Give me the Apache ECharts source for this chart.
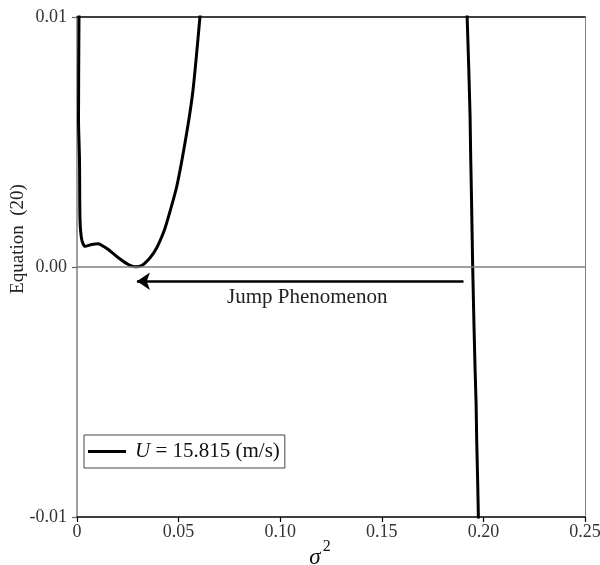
<!DOCTYPE html>
<html>
<head>
<meta charset="utf-8">
<script src="https://cdn.jsdelivr.net/npm/echarts@6/dist/echarts.min.js"></script>
<style>html,body{margin:0;padding:0;background:#fff}#c{width:600px;height:565px}</style>
</head>
<body>
<div id="c"></div>
<script>
// Left branch of Equation (20) vs sigma^2
const leftX = [0.0010, 0.00074, 0.00123, 0.00148, 0.00232, 0.00394, 0.00724, 0.01049, 0.01296, 0.01542, 0.02034, 0.02527, 0.02857, 0.03187, 0.03596, 0.03926, 0.04251, 0.04419, 0.04911, 0.05404, 0.05714, 0.06059, 0.0611];
const leftY = [0.0102, 0.00591, 0.00431, 0.0019, 0.00110, 0.00083, 0.00090, 0.00093, 0.00083, 0.00070, 0.00037, 0.00010, 0.000008, 0.00006, 0.00037, 0.00077, 0.00137, 0.00178, 0.00323, 0.00539, 0.00711, 0.01008, 0.0107];
// Right branch
const rightX = [0.19180, 0.19197, 0.19276, 0.19344, 0.19374, 0.19409, 0.19473, 0.19542, 0.19591, 0.19640, 0.19670, 0.19720, 0.19754, 0.19760];
const rightY = [0.0107, 0.01008, 0.00805, 0.00604, 0.00444, 0.00299, -0.00002, -0.00251, -0.00411, -0.00543, -0.00691, -0.00864, -0.01004, -0.0107];
// Jump arrow (from -> to) and labels
const jumpFrom = [0.1902, -0.00057];
const jumpTo = [0.0295, -0.00057];
const jumpText = 'Jump Phenomenon';
const seriesName = 'U = 15.815 (m/s)';
const xTicks = [0, 0.05, 0.10, 0.15, 0.20, 0.25];
const yTicks = [-0.01, 0, 0.01];

const FONT = '"Liberation Serif", "Times New Roman", serif';
const zip = (a, b) => a.map((v, i) => [v, b[i]]);

const chart = echarts.init(document.getElementById('c'), null, {renderer: 'canvas'});
chart.setOption({
  animation: false,
  backgroundColor: '#fff',
  grid: {left: 77, right: 15, top: 17, bottom: 48, containLabel: false, outerBoundsMode: 'none'},
  legend: {
    left: 84, top: 435,
    orient: 'vertical',
    padding: [6, 5, 6, 4],
    itemGap: 0,
    itemWidth: 38, itemHeight: 3,
    borderColor: '#444', borderWidth: 1, borderRadius: 0,
    data: [{name: seriesName, icon: 'rect', itemStyle: {color: '#000'}}],
    formatter: () => '{i|U} = 15.815 (m/s)',
    textStyle: {fontFamily: FONT, fontSize: 21, color: '#111', padding: [0, 0, 0, 4],
      rich: {i: {fontFamily: FONT, fontSize: 21, fontStyle: 'italic', color: '#111'}}}
  },
  xAxis: [{
    type: 'value', min: xTicks[0], max: xTicks[xTicks.length - 1], interval: 0.05,
    name: '{s|σ}{p|2}', nameLocation: 'middle', nameGap: 22, nameMoveOverlap: false,
    nameTextStyle: {padding: [0, 22, 0, 0], rich: {
      s: {fontFamily: FONT, fontSize: 23, fontStyle: 'italic', color: '#111', lineHeight: 30, verticalAlign: 'bottom'},
      p: {fontFamily: FONT, fontSize: 16, color: '#111', lineHeight: 16, verticalAlign: 'top', padding: [0, 0, 0, 2]}
    }},
    splitLine: {show: false},
    axisLine: {show: true, onZero: false, lineStyle: {color: '#000', width: 1.5}},
    axisTick: {show: true, inside: false, length: 5, lineStyle: {color: '#000', width: 1.2}},
    axisLabel: {margin: 6, fontFamily: FONT, fontSize: 18, color: '#333',
      formatter: v => v === 0 ? '0' : v.toFixed(2)}
  }, {
    type: 'value', position: 'top', min: xTicks[0], max: xTicks[xTicks.length - 1], interval: 0.05,
    axisLine: {show: true, onZero: false, lineStyle: {color: '#000', width: 1.5}},
    axisTick: {show: false}, axisLabel: {show: false}, splitLine: {show: false}
  }],
  yAxis: [{
    type: 'value', min: yTicks[0], max: yTicks[yTicks.length - 1], interval: 0.01,
    name: 'Equation  (20)', nameLocation: 'middle', nameGap: 49, nameMoveOverlap: false,
    nameTextStyle: {fontFamily: FONT, fontSize: 19, color: '#222', padding: [0, 0, 0, 56]},
    splitLine: {show: false},
    axisLine: {show: true, onZero: false, lineStyle: {color: '#808080', width: 1.5}},
    axisTick: {show: true, inside: false, length: 5, lineStyle: {color: '#666', width: 1.2}},
    axisLabel: {margin: 10, fontFamily: FONT, fontSize: 18, color: '#333',
      formatter: v => v.toFixed(2)}
  }, {
    type: 'value', position: 'right', min: yTicks[0], max: yTicks[yTicks.length - 1], interval: 0.01,
    axisLine: {show: true, onZero: false, lineStyle: {color: '#808080', width: 1}},
    axisTick: {show: false}, axisLabel: {show: false}, splitLine: {show: false}
  }],
  series: [{
    name: seriesName, type: 'line', data: zip(leftX, leftY),
    showSymbol: false, symbol: 'none', smooth: 0.25, clip: true,
    lineStyle: {color: '#000', width: 3}, itemStyle: {color: '#000'},
    markLine: {
      silent: true, symbol: ['none', 'none'],
      lineStyle: {color: '#808080', width: 1.5, type: 'solid'},
      label: {show: false},
      data: [{yAxis: 0}]
    }
  }, {
    name: seriesName, type: 'line', data: zip(rightX, rightY),
    showSymbol: false, symbol: 'none', smooth: false, clip: true,
    lineStyle: {color: '#000', width: 3}, itemStyle: {color: '#000'},
    markLine: {
      silent: true, symbol: ['none', 'arrow'], symbolSize: 13,
      lineStyle: {color: '#000', width: 2.5, type: 'solid'},
      label: {show: true, position: 'insideMiddleBottom', distance: 6, formatter: jumpText,
        padding: [0, 0, 0, 14], fontFamily: FONT, fontSize: 21, color: '#222'},
      data: [[{coord: jumpFrom}, {coord: jumpTo}]]
    }
  }]
});
</script>
</body>
</html>
